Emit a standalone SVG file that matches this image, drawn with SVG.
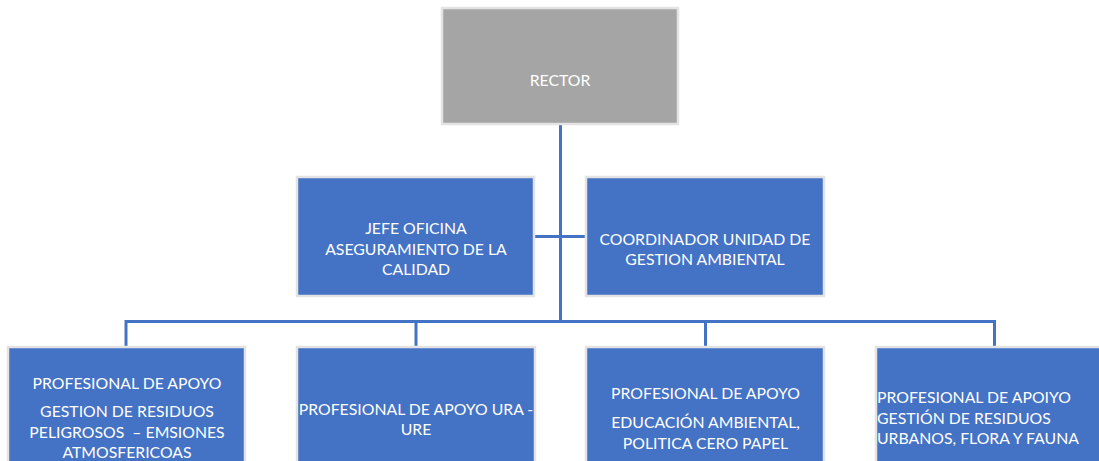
<svg xmlns="http://www.w3.org/2000/svg" width="1099" height="461" viewBox="0 0 1099 461">
<style>
.box{fill:#4472C4;stroke:#E3E3E3;stroke-width:2.5}
.gray{fill:#A5A5A5;stroke:#E3E3E3;stroke-width:2.5}
.t{font-family:Lato,"Liberation Sans",sans-serif;font-size:15.8px;fill:#FFFFFF;text-anchor:middle}
.l{text-anchor:start}
.c{stroke:#4472C4;stroke-width:3;fill:none}
</style>
<rect width="1099" height="461" fill="#FFFFFF"/>
<g id="connectors">
<line class="c" x1="560.5" y1="124" x2="560.5" y2="321.5"/>
<line class="c" x1="534" y1="236.5" x2="587" y2="236.5"/>
<line class="c" x1="126" y1="321.5" x2="994.5" y2="321.5"/>
<line class="c" x1="126" y1="320" x2="126" y2="346"/>
<line class="c" x1="416" y1="320" x2="416" y2="346"/>
<line class="c" x1="705.5" y1="320" x2="705.5" y2="346"/>
<line class="c" x1="994.5" y1="320" x2="994.5" y2="346"/>
</g>
<g id="rector">
<rect class="gray" x="442" y="8" width="236" height="116"/>
<text class="t" x="560" y="86">RECTOR</text>
</g>
<g id="jefe">
<rect class="box" x="297" y="177" width="237" height="119"/>
<text class="t" x="416" y="234">JEFE OFICINA</text>
<text class="t" x="416" y="255">ASEGURAMIENTO DE LA</text>
<text class="t" x="416" y="275">CALIDAD</text>
</g>
<g id="coordinador">
<rect class="box" x="586" y="177" width="238" height="119"/>
<text class="t" x="705" y="245">COORDINADOR UNIDAD DE</text>
<text class="t" x="705" y="265">GESTION AMBIENTAL</text>
</g>
<g id="prof1">
<rect class="box" x="8" y="347" width="237" height="120"/>
<text class="t" x="127" y="389">PROFESIONAL DE APOYO</text>
<text class="t" x="127" y="417">GESTION DE RESIDUOS</text>
<text class="t" x="127" y="438" xml:space="preserve">PELIGROSOS  – EMSIONES</text>
<text class="t" x="127" y="458">ATMOSFERICOAS</text>
</g>
<g id="prof2">
<rect class="box" x="297" y="347" width="238" height="120"/>
<text class="t" x="416" y="415">PROFESIONAL DE APOYO URA -</text>
<text class="t" x="416" y="435">URE</text>
</g>
<g id="prof3">
<rect class="box" x="586" y="347" width="238" height="120"/>
<text class="t" x="705.5" y="399">PROFESIONAL DE APOYO</text>
<text class="t" x="705.5" y="428">EDUCACIÓN AMBIENTAL,</text>
<text class="t" x="705.5" y="449">POLITICA CERO PAPEL</text>
</g>
<g id="prof4">
<rect class="box" x="876" y="347" width="238" height="120"/>
<text class="t l" x="877" y="403">PROFESIONAL DE APOIYO</text>
<text class="t l" x="877" y="424">GESTIÓN DE RESIDUOS</text>
<text class="t l" x="877" y="444">URBANOS, FLORA Y FAUNA</text>
</g>
</svg>
